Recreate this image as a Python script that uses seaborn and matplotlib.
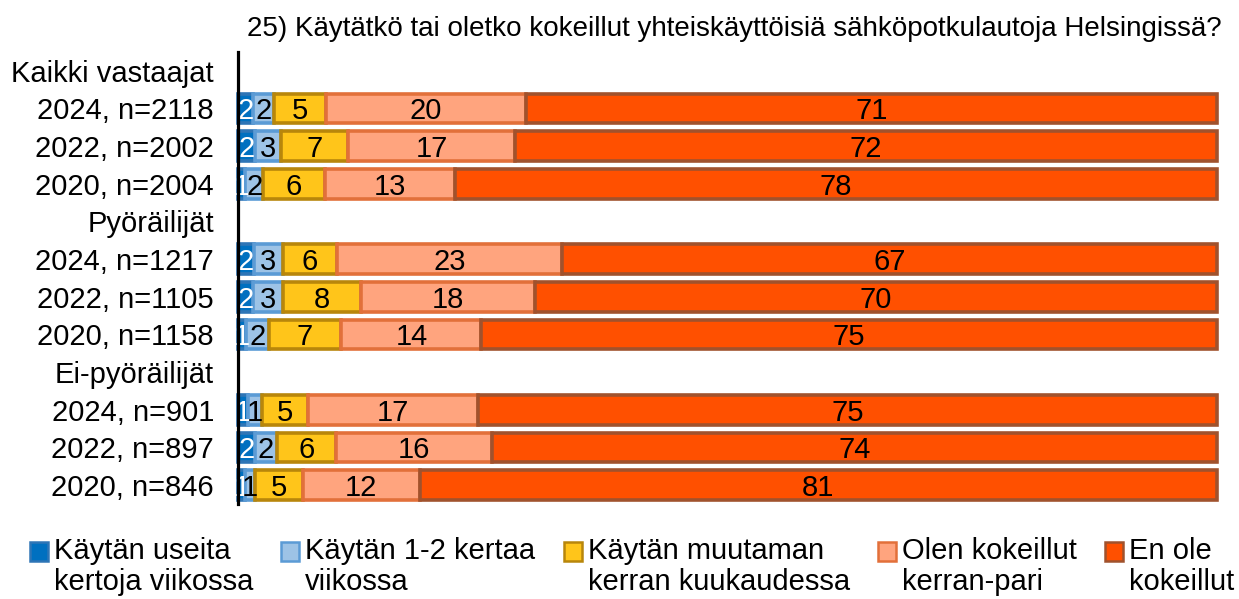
import numpy as np
import pandas as pd
import matplotlib
matplotlib.use("Agg")
import matplotlib.pyplot as plt
import matplotlib.patches as mpatches
from matplotlib.legend_handler import HandlerPatch
import seaborn as sns

# === DATA ===
TITLE = "25) Käytätkö tai oletko kokeillut yhteiskäyttöisiä sähköpotkulautoja Helsingissä?"

# rivit ylhäältä alas, ryhmäotsikoilla ei ole palkkia
ROW_ORDER = ["Kaikki vastaajat", "2024, n=2118", "2022, n=2002", "2020, n=2004",
             "Pyöräilijät", "2024, n=1217", "2022, n=1105", "2020, n=1158",
             "Ei-pyöräilijät", "2024, n=901", "2022, n=897", "2020, n=846"]
BAR_ROWS = [r for r in ROW_ORDER if "n=" in r]

# osuudet % (luettu kuvasta, tarrat pyöristettyinä)
useita_viikossa = [1.6, 1.8, 0.8, 1.7, 1.6, 0.9, 1.1, 1.8, 0.8]
kertaa_1_2 = [2.1, 2.6, 1.8, 2.9, 3.0, 2.3, 1.4, 2.2, 1.0]
muutaman_kk = [5.3, 6.9, 6.3, 5.6, 8.0, 7.4, 4.7, 6.1, 4.9]
kerran_pari = [20.4, 17.0, 13.3, 22.9, 17.8, 14.3, 17.4, 15.9, 11.9]
en_ole = [70.6, 71.7, 77.8, 66.9, 69.6, 75.1, 75.4, 74.0, 81.4]

LEGEND_LABELS = ["Käytän useita\nkertoja viikossa", "Käytän 1-2 kertaa\nviikossa",
                 "Käytän muutaman\nkerran kuukaudessa", "Olen kokeillut\nkerran-pari",
                 "En ole\nkokeillut"]

SERIES = [useita_viikossa, kertaa_1_2, muutaman_kk, kerran_pari, en_ole]
FACE = ["#0070C0", "#9DC3E6", "#FFC51A", "#FFA47E", "#FF5000"]
EDGE = ["#2E75B6", "#5B9BD5", "#B8860B", "#E2703A", "#A0522D"]
TEXT = ["white", "black", "black", "black", "black"]

sns.set_theme(style="white")
plt.rcParams["font.family"] = ["Liberation Sans", "DejaVu Sans"]
plt.rcParams["text.color"] = "black"
plt.rcParams["ytick.labelcolor"] = "black"
FS = 21

fig = plt.figure(figsize=(12.39, 5.99), dpi=100)
ax = fig.add_axes([0.1917, 0.1586, 0.7906, 0.7546])

left = np.zeros(len(BAR_ROWS))
for vals, fc, ec, tc in zip(SERIES, FACE, EDGE, TEXT):
    vals = np.array(vals)
    df = pd.DataFrame({"rivi": BAR_ROWS, "osuus": vals})
    sns.barplot(data=df, x="osuus", y="rivi", order=ROW_ORDER, orient="h",
                color=fc, saturation=1, edgecolor=ec, linewidth=2.6,
                width=0.78, left=left, errorbar=None, clip_on=False, ax=ax)
    for row, l, v in zip(BAR_ROWS, left, vals):
        ax.text(l + v / 2, ROW_ORDER.index(row), f"{v:.0f}", ha="center",
                va="center_baseline", color=tc, fontsize=FS)
    left = left + vals

ax.set_xlim(0, 100)
ax.set_ylim(len(ROW_ORDER) - 0.5, -0.5)
ax.set_xlabel("")
ax.set_ylabel("")
ax.set_xticks([])
ax.tick_params(axis="y", length=0, pad=17, labelsize=FS, labelcolor="black")
sns.despine(ax=ax, left=False, bottom=True)
ax.spines["left"].set_color("black")
ax.spines["left"].set_linewidth(2.3)
ax.spines["left"].set_zorder(5)

fig.text(0.5924, 0.951, TITLE, ha="center", va="center", fontsize=20, color="black")


def top_square(legend, orig_handle, xdescent, ydescent, width, height, fontsize):
    return mpatches.Rectangle((-xdescent, -ydescent + 0.55 * fontsize), width, height)


handles = [mpatches.Patch(facecolor=fc, edgecolor=ec, linewidth=1.8) for fc, ec in zip(FACE, EDGE)]
leg = fig.legend(handles, LEGEND_LABELS, loc="upper left", bbox_to_anchor=(0.024, 0.103),
                 ncol=5, frameon=False, fontsize=FS, handlelength=0.62, handleheight=0.62,
                 handletextpad=0.2, columnspacing=0.97, borderpad=0, borderaxespad=0,
                 handler_map={mpatches.Patch: HandlerPatch(patch_func=top_square)})
for t in leg.get_texts():
    t.set_linespacing(1.1)
    t.set_color("black")

fig.savefig("out.png", dpi=100)
